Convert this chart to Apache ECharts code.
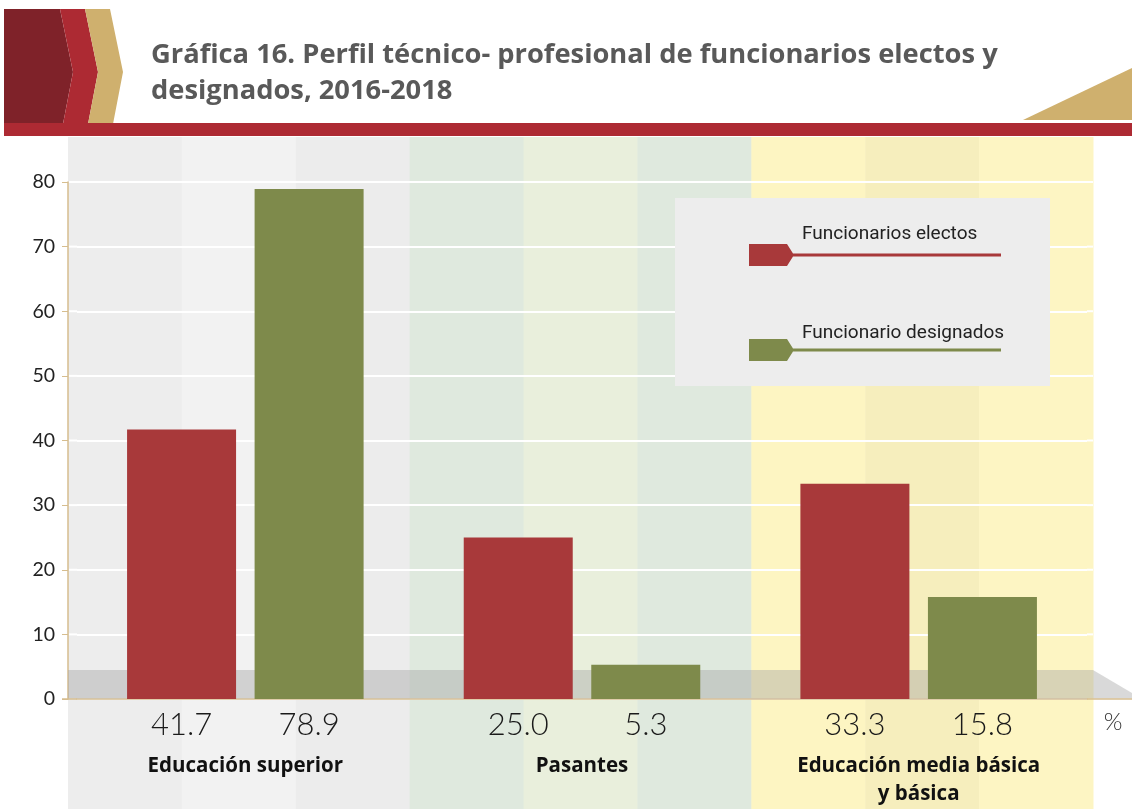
<!DOCTYPE html>
<html><head><meta charset="utf-8">
<script src="https://cdn.jsdelivr.net/npm/echarts@6/dist/echarts.min.js"></script>
<style>html,body{margin:0;padding:0;background:#fff}#c{width:1132px;height:809px}</style>
</head><body><div id="c"></div>
<script>
// ---- data ----
const categories = ['Educación superior', 'Pasantes', 'Educación media básica\ny básica'];
const seriesNames = ['Funcionarios electos', 'Funcionario designados'];
const electos = [41.7, 25.0, 33.3];
const designados = [78.9, 5.3, 15.8];
const yMin = 0, yMax = 80, yInterval = 10;
const titleLines = ['Gráfica 16. Perfil técnico- profesional de funcionarios electos y', 'designados, 2016-2018'];
const unitLabel = '%';

// ---- styles ----
const colors = ['#a8393a', '#7e8a4b'];
const bandColors = [
  ['#ededed', '#f2f2f2', '#ececec'],
  ['#dfe9de', '#e9efdc', '#dfe9de'],
  ['#fdf5c2', '#f6eebd', '#fdf5c3']
];
const tan = '#d6bd8e';
const AXIS_OFFSET = 9;

const chart = echarts.init(document.getElementById('c'), null, {renderer: 'canvas'});

const option = {
  animation: false,
  backgroundColor: '#ffffff',
  title: {
    text: titleLines.join('\n'),
    left: 146, top: 32,
    textStyle: {fontFamily: 'Open Sans', fontWeight: 'bold', fontSize: 27.3, color: '#595959', lineHeight: 36}
  },
  grid: {left: 77, right: 45, top: 182, bottom: 110},
  legend: [
    {
      data: seriesNames,
      orient: 'vertical',
      left: 675, top: 198,
      padding: [46, 49, 25, 74],
      backgroundColor: '#ededed',
      itemGap: 73,
      itemWidth: 252, itemHeight: 22,
      icon: 'path://M0,0L38,0L44,9.5L252,9.5L252,12.5L44,12.5L38,22L0,22Z',
      formatter: function () { return ''; },
      selectedMode: false,
      z: 5
    },
    {
      data: seriesNames,
      orient: 'vertical',
      left: 796, top: 222,
      padding: 0,
      itemGap: 75,
      itemWidth: 1, itemHeight: 24,
      icon: 'rect',
      itemStyle: {opacity: 0},
      selectedMode: false,
      textStyle: {fontFamily: 'Roboto', fontSize: 19, color: '#222'},
      z: 6
    }
  ],
  xAxis: {
    type: 'category',
    data: categories,
    axisLine: {show: true, lineStyle: {color: tan, width: 1.5}},
    axisTick: {show: false},
    axisLabel: {
      margin: 53,
      fontFamily: 'Open Sans', fontWeight: 'bold', fontSize: 20.5, color: '#111', lineHeight: 28
    },
    splitLine: {show: false}
  },
  yAxis: {
    type: 'value',
    min: yMin, max: yMax, interval: yInterval,
    offset: AXIS_OFFSET,
    axisLine: {show: true, lineStyle: {color: tan, width: 1.5}},
    axisTick: {show: true, length: 6, lineStyle: {color: tan}},
    axisLabel: {margin: 13, fontFamily: 'Lato', fontSize: 19.5, color: '#222'},
    splitLine: {show: true, lineStyle: {color: '#ffffff', width: 2}}
  },
  series: [
    {
      name: seriesNames[0], type: 'bar', data: electos,
      barWidth: 109, barGap: '17%',
      itemStyle: {color: colors[0]},
      label: {show: true, position: 'bottom', distance: 10, fontFamily: 'Lato', fontWeight: 300, fontSize: 31, color: '#1a1a1a',
        formatter: p => p.value.toFixed(1)},
      z: 3
    },
    {
      name: seriesNames[1], type: 'bar', data: designados,
      barWidth: 109, barGap: '17%',
      itemStyle: {color: colors[1]},
      label: {show: true, position: 'bottom', distance: 10, fontFamily: 'Lato', fontWeight: 300, fontSize: 31, color: '#1a1a1a',
        formatter: p => p.value.toFixed(1)},
      z: 3
    }
  ]
};
chart.setOption(option);

// ---- decorations derived from the axes ----
const gridModel = chart.getModel().getComponent('grid', 0);
const rect = gridModel.coordinateSystem.getRect();
const x0 = rect.x, x1 = rect.x + rect.width;
const xa = x0 - AXIS_OFFSET, xb = x1 + 6;          // band span (axis line to right edge)
const yZero = chart.convertToPixel({yAxisIndex: 0}, 0);
const yFloor = chart.convertToPixel({yAxisIndex: 0}, 4.5);
const stripeW = (xb - xa) / (categories.length * 3);
const W = 1132, H = 809;

const gfx = [];
// header
gfx.push({type: 'polygon', shape: {points: [[4,9],[60,9],[73,72],[63,124],[4,124]]}, style: {fill: '#7f2229'}, z: 10});
gfx.push({type: 'polygon', shape: {points: [[60,9],[85,9],[98,72],[88,124],[63,124],[73,72]]}, style: {fill: '#ad2a33'}, z: 10});
gfx.push({type: 'polygon', shape: {points: [[85,9],[110,9],[123,72],[113,124],[88,124],[98,72]]}, style: {fill: '#cfb06e'}, z: 10});
gfx.push({type: 'rect', shape: {x: 4, y: 123, width: W - 4, height: 13}, style: {fill: '#ad2a33'}, z: 10});
gfx.push({type: 'polygon', shape: {points: [[1023,120],[W,68],[W,120]]}, style: {fill: '#cfb06e'}, z: 10});

// background bands per category (3 stripes each)
categories.forEach((c, i) => {
  for (let k = 0; k < 3; k++) {
    const bx = xa + (i * 3 + k) * stripeW;
    gfx.push({type: 'rect', shape: {x: bx, y: 137, width: stripeW + 0.5, height: H - 137},
      style: {fill: bandColors[i][k]}, z: -10, silent: true});
  }
});
// white grid line stubs between axis and grid edge / beyond right edge
for (let v = yMin + yInterval; v <= yMax; v += yInterval) {
  const yy = chart.convertToPixel({yAxisIndex: 0}, v);
  gfx.push({type: 'line', shape: {x1: xa + 1, y1: yy, x2: x0, y2: yy}, style: {stroke: '#fff', lineWidth: 2}, z: -5, silent: true});
  gfx.push({type: 'line', shape: {x1: x1, y1: yy, x2: xb, y2: yy}, style: {stroke: '#fff', lineWidth: 2}, z: -5, silent: true});
}
// floor strip
gfx.push({type: 'polygon', shape: {points: [[xa, yFloor], [xb, yFloor], [W, yFloor + 23], [W, yZero - 0.5], [xa, yZero - 0.5]]},
  style: {fill: 'rgba(165,165,165,0.42)'}, z: 1, silent: true});
// baseline extensions
gfx.push({type: 'line', shape: {x1: xa - 6, y1: yZero, x2: x0, y2: yZero}, style: {stroke: tan, lineWidth: 1.5}, z: 2});
gfx.push({type: 'line', shape: {x1: x1, y1: yZero, x2: W, y2: yZero}, style: {stroke: tan, lineWidth: 1.5}, z: 2});
// unit
gfx.push({type: 'text', x: 1113, y: 722, style: {text: unitLabel, fontFamily: 'Lato', fontWeight: 300, fontSize: 24, fill: '#333',
  textAlign: 'center', textVerticalAlign: 'middle'}, z: 5});

chart.setOption({graphic: {elements: gfx}});
</script>
</body></html>
